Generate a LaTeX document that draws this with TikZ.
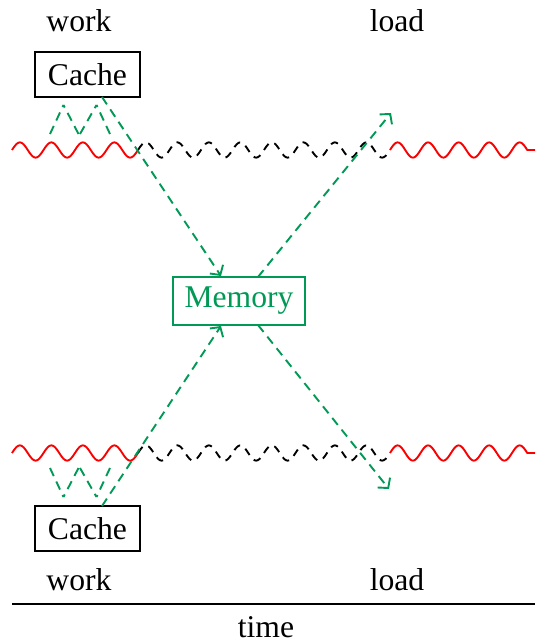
\documentclass[tikz,border=0pt]{standalone}
\usepackage{fontspec}
\setmainfont{Liberation Serif}
\usetikzlibrary{arrows.meta}
\definecolor{memgreen}{RGB}{0,153,85}
\definecolor{wavered}{RGB}{250,0,0}
\begin{document}
\begin{tikzpicture}[x=0.316pt,y=-0.316pt,
  lbl/.style={anchor=base,inner sep=0pt},
  cachebox/.style={draw,line width=0.6pt,minimum width=33.2pt,minimum height=14.2pt,inner sep=0pt},
  membox/.style={cachebox,draw=memgreen,text=memgreen,minimum width=41.7pt,minimum height=15.2pt},
  wave/.style={line width=0.6pt,line join=round},
  busy/.style={wave,draw=wavered},
  idle/.style={wave,draw=black,dash pattern=on 2.4pt off 2pt},
  flow/.style={draw=memgreen,line width=0.6pt,dash pattern=on 2.8pt off 1.9pt},
  flowarrow/.style={flow,-{Straight Barb[length=2.2pt,width=5pt]}}]

\useasboundingbox (0,0) rectangle (535,640);

% phase labels
\node[lbl] (wtop) at (79,32) {work};
\node[lbl] (ltop) at (397,32) {load};
\node[lbl] (wbot) at (79,590) {work};
\node[lbl] (lbot) at (397,590) {load};
\node[lbl] (tm) at (266,637) {time};

% caches and memory
\node[cachebox] (c1) at (87.5,74.5) {Cache};
\node[cachebox] (c2) at (87.5,528.5) {Cache};
\node[membox] (m) at (239,301) {Memory};

% timelines: sine waves, busy (red) and waiting (black dashed)
\foreach \yc in {150,453}{
  \draw[busy] plot[domain=12:138,samples=121] (\x,{\yc-7.6*sin(360*((\x-12)/31.5))});
  \draw[idle] plot[domain=138:390,samples=241] (\x,{\yc-7.6*sin(360*((\x-138)/31.5))});
  \draw[busy] plot[domain=390:527.25,samples=131] (\x,{\yc-7.6*sin(360*((\x-390)/30.5))})
    -- (535,\yc);
}

% time axis
\coordinate (t0) at (12,604);
\coordinate (t1) at (535,604);
\draw[line width=0.8pt] (t0) -- (t1);

% cache <-> core traffic during work
\coordinate (u1) at (50,134);
\coordinate (u2) at (63.5,105);
\coordinate (u3) at (78.5,134);
\coordinate (u4) at (80,134);
\coordinate (u5) at (96.5,105);
\coordinate (u6) at (110,134);
\draw[flow] (u1) -- (u2);
\draw[flow] (u3) -- (u2);
\draw[flow] (u4) -- (u5);
\draw[flow] (u6) -- (u5);
\coordinate (d1) at (50,468);
\coordinate (d2) at (63.5,497);
\coordinate (d3) at (78.5,468);
\coordinate (d4) at (80,468);
\coordinate (d5) at (96.5,497);
\coordinate (d6) at (110,468);
\draw[flow] (d1) -- (d2);
\draw[flow] (d3) -- (d2);
\draw[flow] (d4) -- (d5);
\draw[flow] (d6) -- (d5);

% transfers to and from memory
\coordinate (s1) at (102,97);
\coordinate (mi1) at (221,276);
\coordinate (mo1) at (258,277);
\coordinate (e1) at (391,113);
\coordinate (s2) at (102,506);
\coordinate (mi2) at (221,326);
\coordinate (mo2) at (258,325);
\coordinate (e2) at (389,489);
\draw[flowarrow] (s1) -- (mi1);
\draw[flowarrow] (mo1) -- (e1);
\draw[flowarrow] (s2) -- (mi2);
\draw[flowarrow] (mo2) -- (e2);
\end{tikzpicture}
\end{document}
